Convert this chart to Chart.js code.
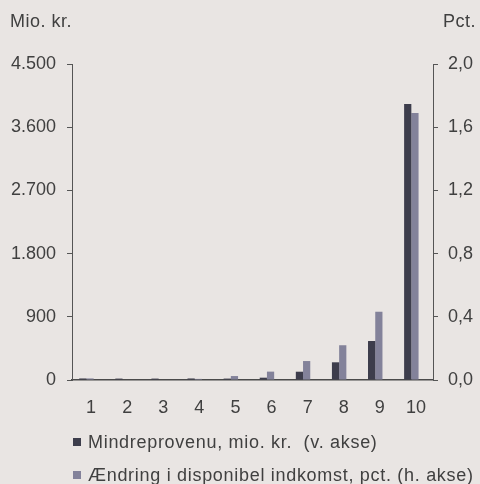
<!DOCTYPE html>
<html lang="da">
<head>
<meta charset="utf-8">
<title>Mindreprovenu og ændring i disponibel indkomst</title>
<script src="https://cdn.jsdelivr.net/npm/chart.js@4.4.1/dist/chart.umd.min.js"></script>
<style>
    html, body { margin: 0; padding: 0; background: #e9e5e3; }
    canvas { display: block; }
</style>
</head>
<body>
<canvas id="chartDeciler" width="480" height="484"></canvas>
<script>
    'use strict';

    // Deciler
    const kategorier = ['1', '2', '3', '4', '5', '6', '7', '8', '9', '10'];
    // Mindreprovenu, mio. kr. (venstre akse)
    const mindreprovenu = [22, 20, 20, 22, 20, 33, 118, 252, 555, 3930];
    // Ændring i disponibel indkomst, pct. (højre akse)
    const aendring = [0.01, 0, 0, 0.007, 0.025, 0.053, 0.12, 0.22, 0.432, 1.69];

    const venstreTicks = ['0', '900', '1.800', '2.700', '3.600', '4.500'];
    const hoejreTicks = ['0,0', '0,4', '0,8', '1,2', '1,6', '2,0'];

    const serieNavne = [
        'Mindreprovenu, mio. kr.  (v. akse)',
        'Ændring i disponibel indkomst, pct. (h. akse)'
    ];
    const farver = ['#3d3d4c', '#83829a'];
    const tekstFarve = '#404040';
    const font = '18px "Liberation Sans", Arial, sans-serif';

    // akseenheder og signaturforklaring tegnes direkte på lærredet
    const tekster = {
        id: 'tekster',
        afterDraw(chart) {
            const ctx = chart.ctx;
            ctx.save();
            ctx.font = font;
            ctx.fillStyle = tekstFarve;
            ctx.textBaseline = 'alphabetic';
            ctx.letterSpacing = '0.5px';
            ctx.textAlign = 'left';
            ctx.fillText('Mio. kr.', 10, 27);
            ctx.textAlign = 'right';
            ctx.fillText('Pct.', 476, 27);

            const linjer = [448, 481];
            ctx.letterSpacing = '0.7px';
            ctx.textAlign = 'left';
            serieNavne.forEach((navn, i) => {
                ctx.fillStyle = farver[i];
                ctx.fillRect(73, linjer[i] - 10, 8, 8);
                ctx.fillStyle = tekstFarve;
                ctx.fillText(navn, 88, linjer[i]);
            });
            ctx.restore();
        }
    };

    Chart.defaults.font.family = '"Liberation Sans", Arial, sans-serif';
    Chart.defaults.font.size = 18;
    Chart.defaults.color = tekstFarve;

    new Chart(document.getElementById('chartDeciler').getContext('2d'), {
        type: 'bar',
        data: {
            labels: kategorier,
            datasets: [{
                label: serieNavne[0],
                data: mindreprovenu,
                backgroundColor: farver[0],
                yAxisID: 'y'
            }, {
                label: serieNavne[1],
                data: aendring,
                backgroundColor: farver[1],
                yAxisID: 'y1'
            }, {
                // tom plads til højre i hver gruppe
                label: '',
                data: kategorier.map(() => null),
                backgroundColor: 'rgba(0,0,0,0)',
                yAxisID: 'y'
            }]
        },
        options: {
            responsive: false,
            animation: false,
            categoryPercentage: 0.6,
            barPercentage: 1.0,
            layout: {
                padding: { top: 64, bottom: 64, left: 0, right: 0 }
            },
            plugins: {
                legend: { display: false },
                tooltip: { enabled: false }
            },
            scales: {
                x: {
                    grid: { display: false },
                    border: { display: true, color: '#4a4a4a', width: 1.5 },
                    ticks: { padding: 9, maxRotation: 0, labelOffset: 1 },
                    afterFit: function(scale) { scale.height = 40; }
                },
                y: {
                    position: 'left',
                    min: 0,
                    max: 4500,
                    ticks: {
                        stepSize: 900,
                        padding: 11,
                        callback: function(value, index) {
                            return venstreTicks[index];
                        }
                    },
                    grid: {
                        drawOnChartArea: false,
                        tickLength: 5,
                        tickColor: '#555555'
                    },
                    border: { display: true, color: '#555555', width: 1 },
                    afterFit: function(scale) { scale.width = 72; }
                },
                y1: {
                    position: 'right',
                    min: 0,
                    max: 2,
                    ticks: {
                        stepSize: 0.4,
                        padding: 10,
                        callback: function(value, index) {
                            return hoejreTicks[index];
                        }
                    },
                    grid: {
                        drawOnChartArea: false,
                        tickLength: 5,
                        tickColor: '#555555'
                    },
                    border: { display: true, color: '#555555', width: 1 },
                    afterFit: function(scale) { scale.width = 47; }
                }
            }
        },
        plugins: [tekster]
    });
</script>
</body>
</html>
